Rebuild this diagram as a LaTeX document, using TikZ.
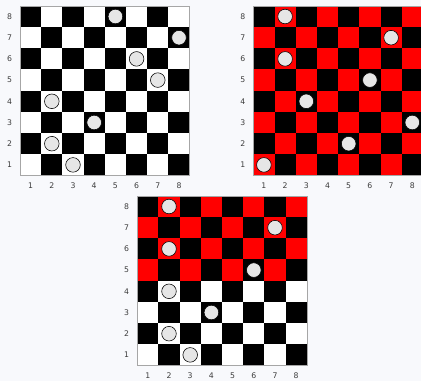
\documentclass[tikz,border=0pt]{standalone}
\usepackage{fontspec}
\setmainfont{DejaVu Sans}
\usetikzlibrary{calc}

\definecolor{bgGray}{RGB}{248,249,252}
\definecolor{pieceGray}{RGB}{230,230,230}
\definecolor{boardRed}{RGB}{255,0,0}
\definecolor{labelGray}{RGB}{60,60,60}

\tikzset{
  piece/.style={circle, draw=black, fill=pieceGray, line width=0.8pt,
    minimum size=7.3mm, inner sep=0pt},
  lbl/.style={font=\fontsize{11}{12}\selectfont, text=labelGray},
  rim/.style={draw=gray!70, line width=0.5pt},
}

\begin{document}
\begin{tikzpicture}[x=0.5mm,y=0.5mm]
\def\cs{21.2}

\fill[bgGray] (0,0) rectangle (421,381);
\useasboundingbox (0,0) rectangle (421,381);

\coordinate (A) at (20,205.5);
\coordinate (B) at (253.3,205.5);
\coordinate (C) at (137.2,15.5);

% squares: light colour for rows 1-4 and rows 5-8
\foreach \b/\lo/\hi in {A/white/white, B/boardRed/boardRed, C/white/boardRed} {
  \foreach \col in {1,...,8}
    \foreach \row in {1,...,8} {
      \pgfmathtruncatemacro{\odd}{mod(\col+\row,2)}
      \ifnum\odd=1 \def\sq{black}\else
        \ifnum\row>4 \def\sq{\hi}\else\def\sq{\lo}\fi
      \fi
      \fill[\sq] ($(\b)+(\col*\cs-\cs,\row*\cs-\cs)$) rectangle ++(\cs,\cs);
    }
  \draw[rim] (\b) rectangle ++(8*\cs,8*\cs);
  \foreach \n in {1,...,8} {
    \node[lbl] (\b-c\n) at ($(\b)+(\n*\cs-\cs/2,-10.5)$) {\n};
    \node[lbl] (\b-r\n) at ($(\b)+(-10.5,\n*\cs-\cs/2)$) {\n};
  }
}

% pieces
\foreach \col/\row in {5/8,8/7,6/6,7/5,2/4,4/3,2/2,3/1}
  \node[piece] (A-\col-\row) at ($(A)+(\col*\cs-\cs/2,\row*\cs-\cs/2)$) {};
\foreach \col/\row in {2/8,7/7,2/6,6/5,3/4,8/3,5/2,1/1}
  \node[piece] (B-\col-\row) at ($(B)+(\col*\cs-\cs/2,\row*\cs-\cs/2)$) {};
\foreach \col/\row in {2/8,7/7,2/6,6/5,2/4,4/3,2/2,3/1}
  \node[piece] (C-\col-\row) at ($(C)+(\col*\cs-\cs/2,\row*\cs-\cs/2)$) {};
\end{tikzpicture}
\end{document}
